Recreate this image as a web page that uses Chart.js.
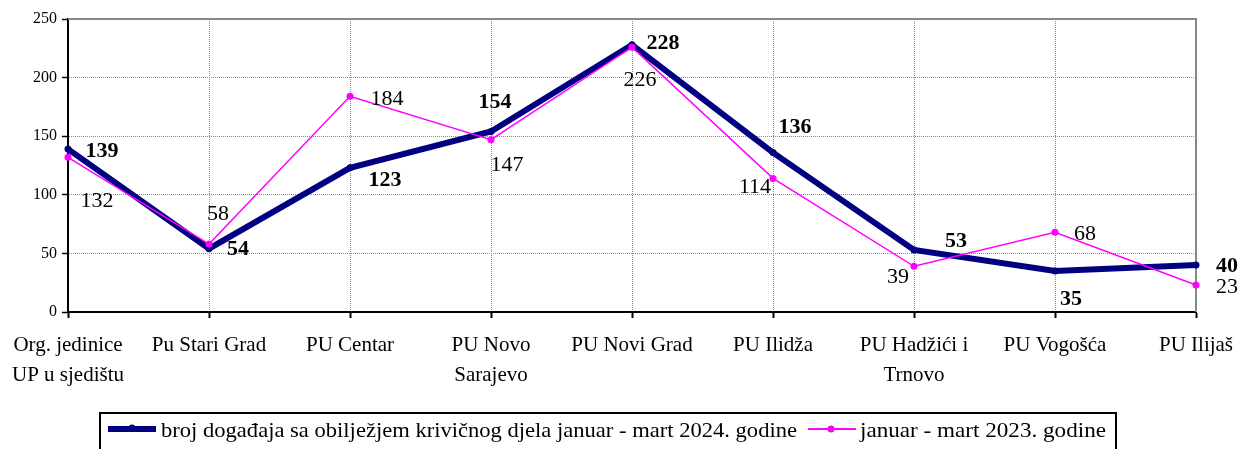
<!DOCTYPE html>
<html><head><meta charset="utf-8">
<script src="https://cdn.jsdelivr.net/npm/chart.js@4.4.1/dist/chart.umd.min.js"></script>
<style>html,body{margin:0;padding:0;background:#fff;overflow:hidden}</style>
</head><body>
<canvas id="c" width="1238" height="449" style="display:block;width:1238px;height:449px"></canvas>
<script>
const categories = [["Org. jedinice","UP u sjedištu"],"Pu Stari Grad","PU Centar",["PU Novo","Sarajevo"],"PU Novi Grad","PU Ilidža",["PU Hadžići i","Trnovo"],"PU Vogošća","PU Ilijaš"];
const series2024 = [139,54,123,154,228,136,53,35,40];
const series2023 = [132,58,184,147,226,114,39,68,23];
const yTicks = [0,50,100,150,200,250];
const label2024 = "broj događaja sa obilježjem krivičnog djela januar - mart 2024. godine";
const label2023 = "januar - mart 2023. godine";

// label placement offsets (style, not data)
const offsets2024 = [[34,2],[29,1],[35,12],[4,-29],[31,-1],[22,-25],[42,-9],[16,28],[31,1]];
const offsets2023 = [[29,44],[9,-30],[37,3],[16,26],[8,33],[-18,9],[-16,11],[30,2],[31,2]];

const SERIF = "'Liberation Serif','Times New Roman',serif";
const NAVY = '#000080', MAGENTA = '#FF00FF';

const frame = {
  id: 'frame',
  beforeDatasetsDraw(chart) {
    const {ctx, chartArea: a} = chart;
    ctx.save();
    ctx.strokeStyle = '#888';
    ctx.lineWidth = 2;
    ctx.beginPath();
    ctx.moveTo(a.left, a.top); ctx.lineTo(a.right, a.top); ctx.lineTo(a.right, a.bottom);
    ctx.stroke();
    ctx.restore();
  }
};

const valueLabels = {
  id: 'valueLabels',
  afterDatasetsDraw(chart) {
    const ctx = chart.ctx;
    const cfg = [
      {i: 0, offs: offsets2024, font: 'bold 22px ' + SERIF},
      {i: 1, offs: offsets2023, font: '22px ' + SERIF}
    ];
    ctx.save();
    ctx.textAlign = 'center';
    ctx.textBaseline = 'middle';
    ctx.fillStyle = '#000';
    cfg.forEach(c => {
      const meta = chart.getDatasetMeta(c.i);
      const data = chart.data.datasets[c.i].data;
      ctx.font = c.font;
      meta.data.forEach((pt, k) => {
        ctx.fillText(String(data[k]), pt.x + c.offs[k][0], pt.y + c.offs[k][1]);
      });
    });
    ctx.restore();
  }
};

const boxLegend = {
  id: 'boxLegend',
  afterDraw(chart) {
    const ctx = chart.ctx;
    const ds = chart.data.datasets;
    ctx.save();
    ctx.strokeStyle = '#000';
    ctx.lineWidth = 2;
    ctx.strokeRect(100, 413, 1016, 60);
    const y = 429;
    ctx.strokeStyle = NAVY; ctx.lineWidth = 6;
    ctx.beginPath(); ctx.moveTo(108, y); ctx.lineTo(156, y); ctx.stroke();
    ctx.fillStyle = NAVY; ctx.beginPath(); ctx.arc(132, y - 1, 3.5, 0, Math.PI * 2); ctx.fill();
    ctx.fillStyle = '#000';
    ctx.font = '21px ' + SERIF;
    ctx.textBaseline = 'middle';
    ctx.textAlign = 'left';
    const w1 = 636, w2 = 246;
    let m = ctx.measureText(ds[0].label).width;
    ctx.save(); ctx.translate(161, y + 2); ctx.scale(w1 / m, 1); ctx.fillText(ds[0].label, 0, 0); ctx.restore();
    ctx.strokeStyle = MAGENTA; ctx.lineWidth = 2;
    ctx.beginPath(); ctx.moveTo(808, y); ctx.lineTo(856, y); ctx.stroke();
    ctx.fillStyle = MAGENTA; ctx.beginPath(); ctx.arc(831, y, 3.5, 0, Math.PI * 2); ctx.fill();
    ctx.fillStyle = '#000';
    m = ctx.measureText(ds[1].label).width;
    ctx.save(); ctx.translate(860, y + 2); ctx.scale(w2 / m, 1); ctx.fillText(ds[1].label, 0, 0); ctx.restore();
    ctx.restore();
  }
};

new Chart(document.getElementById('c'), {
  type: 'line',
  data: {
    labels: categories,
    datasets: [
      {label: label2024, data: series2024, borderColor: NAVY, backgroundColor: NAVY, borderWidth: 6,
       pointRadius: 3.5, pointBorderWidth: 0, pointBackgroundColor: NAVY, tension: 0, order: 2, fill: false},
      {label: label2023, data: series2023, borderColor: MAGENTA, backgroundColor: MAGENTA, borderWidth: 1.5,
       pointRadius: 3.5, pointBorderWidth: 0, pointBackgroundColor: MAGENTA, tension: 0, order: 1, fill: false}
    ]
  },
  options: {
    responsive: false,
    animation: false,
    devicePixelRatio: 1,
    layout: {padding: {top: 19, right: 42, bottom: 0, left: 0}},
    plugins: {legend: {display: false}, tooltip: {enabled: false}},
    scales: {
      x: {
        offset: false,
        grid: {color: '#8a8a8a', lineWidth: 1, tickColor: '#000', tickLength: 6, tickWidth: 2, tickBorderDash: [], drawTicks: true},
        border: {display: true, color: '#000', width: 2, dash: [1, 1]},
        ticks: {color: '#000', font: {family: SERIF, size: 21, lineHeight: 1.43}, padding: 12, maxRotation: 0, autoSkip: false},
        afterFit(s) { s.height = 137; s.paddingLeft = 0; s.paddingRight = 0; }
      },
      y: {
        min: 0, max: 250,
        afterBuildTicks(s) { s.ticks = yTicks.map(v => ({value: v})); },
        grid: {color: '#8a8a8a', lineWidth: 1, tickColor: '#000', tickLength: 6, tickWidth: 1.5, tickBorderDash: []},
        border: {display: true, color: '#000', width: 2, dash: [1, 1]},
        ticks: {color: '#000', font: {family: SERIF, size: 16}, padding: 5},
        afterFit(s) { s.width = 68; }
      }
    }
  },
  plugins: [frame, valueLabels, boxLegend]
});
</script>
</body></html>
